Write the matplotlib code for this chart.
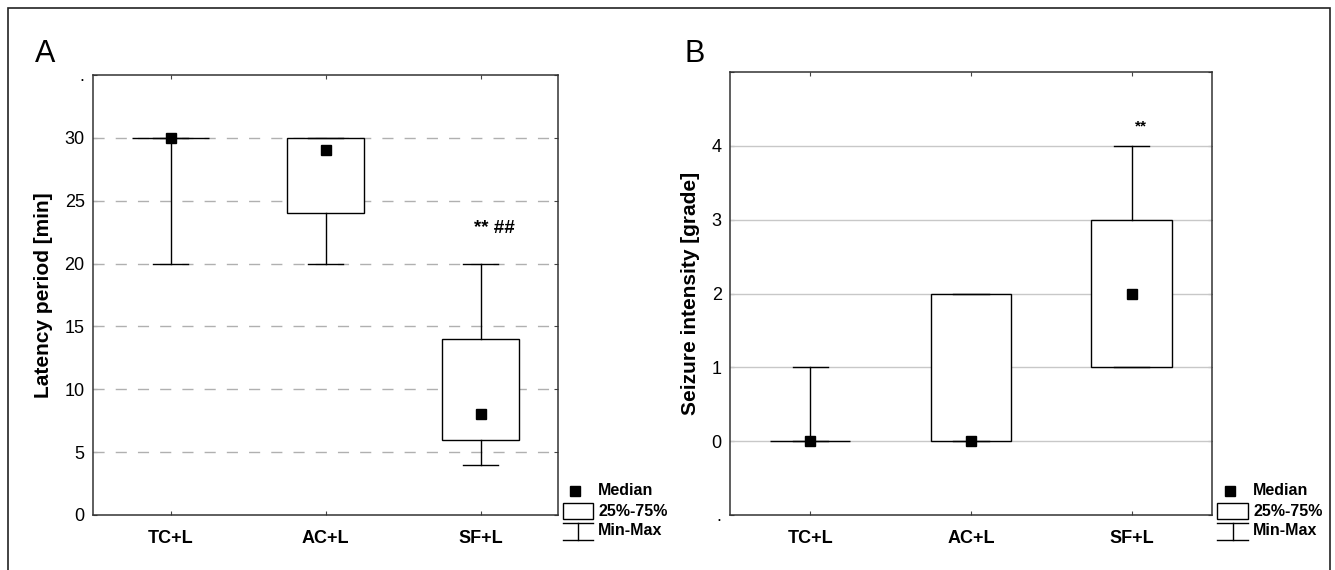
import matplotlib
matplotlib.use("Agg")
import matplotlib.pyplot as plt
from matplotlib.patches import Rectangle

plt.rcParams['font.family'] = ['Liberation Sans', 'DejaVu Sans']

groups = ['TC+L', 'AC+L', 'SF+L']

# panel A - latency period [min]
lat_min = [20, 20, 4]
lat_q1 = [30, 24, 6]
lat_med = [30, 29, 8]
lat_q3 = [30, 30, 14]
lat_max = [30, 30, 20]

# panel B - seizure intensity [grade]
sz_min = [0, 0, 1]
sz_q1 = [0, 0, 1]
sz_med = [0, 0, 2]
sz_q3 = [0, 2, 3]
sz_max = [1, 2, 4]


def make_stats(lo, q1, med, q3, hi):
    stats = []
    for i in range(len(groups)):
        stats.append(dict(whislo=lo[i], q1=q1[i], med=med[i], mean=med[i],
                          q3=q3[i], whishi=hi[i], label=groups[i]))
    return stats


def draw_panel(ax, stats, yticks, ylabels):
    ax.bxp(stats, positions=range(len(groups)), widths=0.5, capwidths=0.22,
           patch_artist=True, showmeans=True, showfliers=False,
           boxprops=dict(facecolor='white', edgecolor='black', linewidth=1),
           whiskerprops=dict(color='black', linewidth=1),
           capprops=dict(color='black', linewidth=1),
           medianprops=dict(visible=False),
           meanprops=dict(marker='s', markerfacecolor='black',
                          markeredgecolor='black', markersize=7),
           zorder=3)
    ax.set_xlim(-0.5, 2.5)
    ax.set_xticks(range(len(groups)))
    ax.set_xticklabels(groups, fontweight='bold', fontsize=13)
    ax.set_yticks(yticks)
    ax.set_yticklabels(ylabels, fontsize=13)
    ax.tick_params(axis='both', length=3, color='#444444',
                   direction='in', top=True, right=True)
    ax.tick_params(axis='x', pad=11)
    ax.tick_params(axis='y', pad=6)
    for s in ax.spines.values():
        s.set_color('#333333')
        s.set_linewidth(1.1)
    ax.set_axisbelow(True)

    # legend drawn beside the axes
    tr = ax.transAxes
    ax.plot([1.037], [0.055], 's', color='black', markersize=7,
            transform=tr, clip_on=False)
    ax.add_patch(Rectangle((1.011, -0.009), 0.064, 0.036, transform=tr,
                           facecolor='white', edgecolor='black', lw=1,
                           clip_on=False))
    ax.plot([1.011, 1.075], [-0.018, -0.018], color='black', lw=1,
            transform=tr, clip_on=False)
    ax.plot([1.011, 1.075], [-0.057, -0.057], color='black', lw=1,
            transform=tr, clip_on=False)
    ax.plot([1.043, 1.043], [-0.018, -0.057], color='black', lw=1,
            transform=tr, clip_on=False)
    for txt, yy in [('Median', 0.055), ('25%-75%', 0.009), ('Min-Max', -0.036)]:
        ax.text(1.086, yy, txt, transform=tr, fontsize=11.5, fontweight='bold',
                va='center', ha='left')


fig = plt.figure(figsize=(13.35, 5.7), dpi=100)
fig.add_artist(Rectangle((0.006, -0.02), 0.99, 1.006, transform=fig.transFigure,
                         facecolor='none', edgecolor='#222222', lw=1.2))

axA = fig.add_axes([0.0697, 0.0965, 0.3483, 0.772])
draw_panel(axA, make_stats(lat_min, lat_q1, lat_med, lat_q3, lat_max),
           [0, 5, 10, 15, 20, 25, 30, 35],
           ['0', '5', '10', '15', '20', '25', '30', '.'])
axA.set_ylim(0, 35)
for v in [5, 10, 15, 20, 25, 30]:
    axA.axhline(v, color='#b0b0b0', lw=1, linestyle=(0, (8, 8)), zorder=1)
axA.set_ylabel('Latency period [min]', fontsize=15, fontweight='bold', labelpad=8)
axA.text(2.09, 22.8, '** ##', fontsize=13.5, fontweight='bold', ha='center', va='center')
fig.text(0.034, 0.905, 'A', fontsize=22, ha='center', va='center')

axB = fig.add_axes([0.5468, 0.0965, 0.361, 0.777])
draw_panel(axB, make_stats(sz_min, sz_q1, sz_med, sz_q3, sz_max),
           [-1, 0, 1, 2, 3, 4, 5], ['.', '0', '1', '2', '3', '4', ''])
axB.set_ylim(-1, 5)
for v in [0, 1, 2, 3, 4]:
    axB.axhline(v, color='#c8c8c8', lw=1, zorder=1)
axB.set_ylabel('Seizure intensity [grade]', fontsize=15, fontweight='bold', labelpad=8)
axB.text(2.06, 4.27, '**', fontsize=11, fontweight='bold', ha='center', va='center')
fig.text(0.52, 0.905, 'B', fontsize=22, ha='center', va='center')

fig.savefig('out.png', dpi=100)
